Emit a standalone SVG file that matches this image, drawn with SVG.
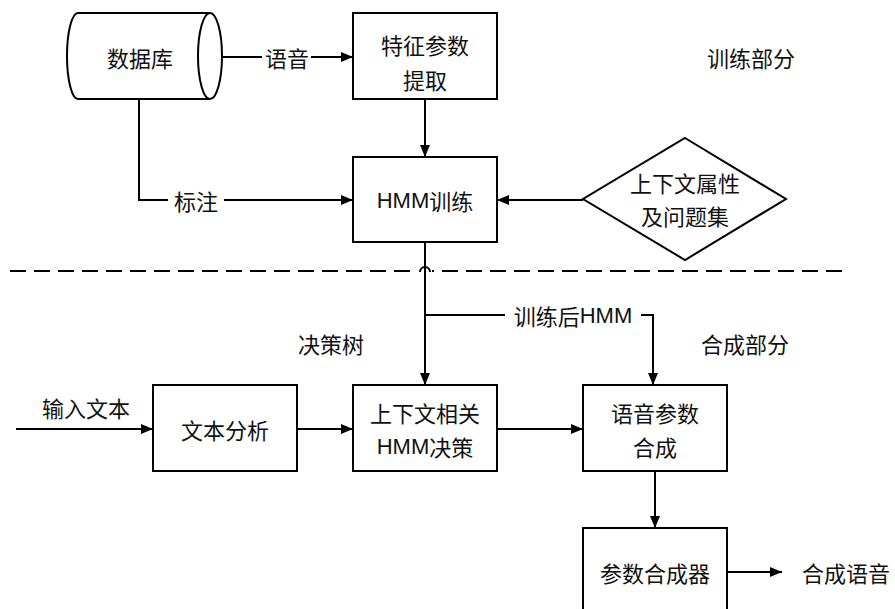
<svg xmlns="http://www.w3.org/2000/svg" width="895" height="609" viewBox="0 0 895 609">
<style>
.s{fill:#fff;stroke:#000;stroke-width:2}
.c{fill:none;stroke:#000;stroke-width:2}
.t{font-family:"Noto Sans CJK SC","Liberation Sans",sans-serif;font-size:22px;fill:#111;text-anchor:middle;dominant-baseline:central}
.h{font-family:"Liberation Sans","Noto Sans CJK SC",sans-serif}
</style>
<defs>
<marker id="a" viewBox="0 0 12 10" refX="12" refY="5" markerWidth="12" markerHeight="10" markerUnits="userSpaceOnUse" orient="auto">
<path d="M0,0 L12,5 L0,10 Z" fill="#000"/>
</marker>
</defs>
<rect width="895" height="609" fill="#fff"/>
<line x1="10" y1="271" x2="843" y2="271" stroke="#000" stroke-width="2" stroke-dasharray="16 8"/>
<g id="connectors">
<path class="c" d="M222,57 H262"/>
<path class="c" d="M311,57 H353" marker-end="url(#a)"/>
<path class="c" d="M425,99 V157" marker-end="url(#a)"/>
<path class="c" d="M139,99 V200 H168"/>
<path class="c" d="M224,200 H353" marker-end="url(#a)"/>
<path class="c" d="M583,200 H497" marker-end="url(#a)"/>
<path class="c" d="M425,242 V385" marker-end="url(#a)"/>
<rect x="418" y="262" width="14" height="12" fill="#fff"/>
<path class="c" d="M425,262 V276"/>
<path class="c" d="M420,272 A5,5 0 0 1 430,272"/>
<path class="c" d="M425,315 H505"/>
<path class="c" d="M641,315 H653 V385" marker-end="url(#a)"/>
<path class="c" d="M16,429 H153" marker-end="url(#a)"/>
<path class="c" d="M297,429 H353" marker-end="url(#a)"/>
<path class="c" d="M497,429 H583" marker-end="url(#a)"/>
<path class="c" d="M655,471 V528" marker-end="url(#a)"/>
<path class="c" d="M727,572 H782" marker-end="url(#a)"/>
<text class="t" x="287" y="57">语音</text>
<text class="t" x="196" y="200">标注</text>
<text class="t" x="573" y="315">训练后<tspan class="h">HMM</tspan></text>
</g>
<g id="db">
<path class="s" d="M78,13 H210 A12,43 0 0 1 210,99 H78 A11,43 0 0 1 78,13 Z"/>
<path class="c" d="M210,13 A12,43 0 0 0 210,99"/>
<text class="t" x="140" y="57">数据库</text>
</g>
<g id="feature">
<rect class="s" x="353" y="13" width="144" height="86"/>
<text class="t" x="425" y="44">特征参数</text>
<text class="t" x="425" y="79">提取</text>
</g>
<g id="hmmtrain">
<rect class="s" x="353" y="157" width="144" height="85"/>
<text class="t" x="425" y="200"><tspan class="h">HMM</tspan>训练</text>
</g>
<g id="context">
<path class="s" d="M685,138 L786,199 L685,260 L583,199 Z"/>
<text class="t" x="685" y="182">上下文属性</text>
<text class="t" x="685" y="215">及问题集</text>
</g>
<g id="labels">
<text class="t" x="751" y="57">训练部分</text>
<text class="t" x="331" y="343">决策树</text>
<text class="t" x="745" y="343">合成部分</text>
<text class="t" x="86" y="407">输入文本</text>
<text class="t" x="846" y="572">合成语音</text>
</g>
<g id="textanalysis">
<rect class="s" x="153" y="385" width="144" height="86"/>
<text class="t" x="225" y="429">文本分析</text>
</g>
<g id="decision">
<rect class="s" x="353" y="385" width="144" height="86"/>
<text class="t" x="425" y="412">上下文相关</text>
<text class="t" x="425" y="446"><tspan class="h">HMM</tspan>决策</text>
</g>
<g id="synth">
<rect class="s" x="583" y="385" width="144" height="86"/>
<text class="t" x="655" y="412">语音参数</text>
<text class="t" x="655" y="446">合成</text>
</g>
<g id="synthesizer">
<rect class="s" x="583" y="528" width="144" height="100"/>
<text class="t" x="655" y="572">参数合成器</text>
</g>
</svg>
